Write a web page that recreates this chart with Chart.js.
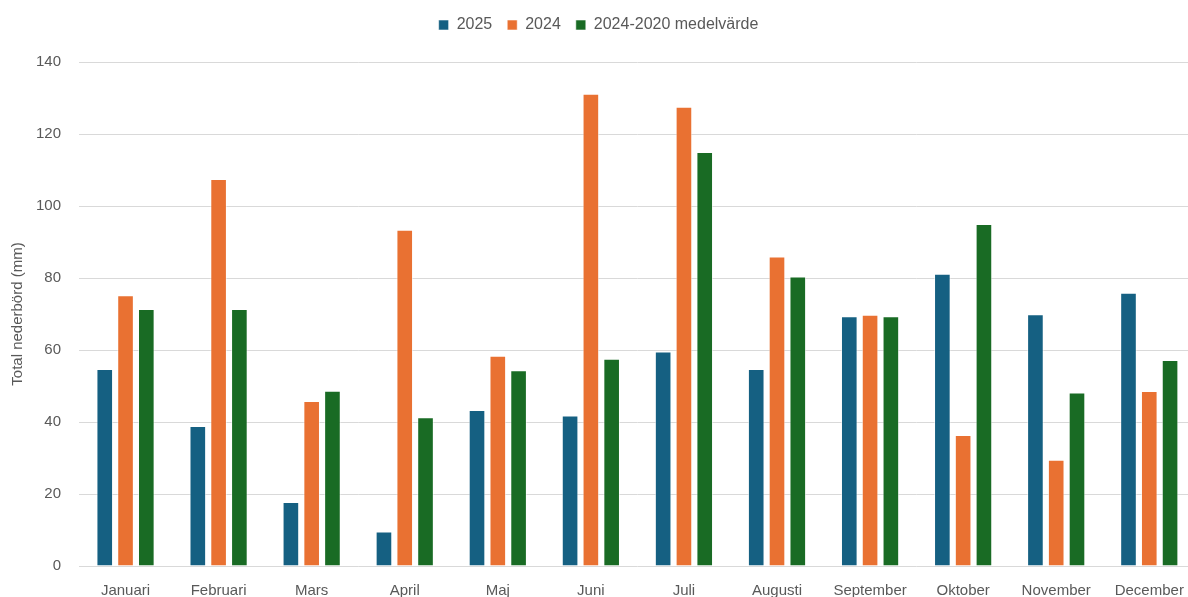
<!DOCTYPE html>
<html lang="sv">
<head>
<meta charset="utf-8">
<script src="https://cdn.jsdelivr.net/npm/chart.js@4.4.1/dist/chart.umd.min.js"></script>
<style>
  html, body { margin: 0; padding: 0; background: #fff; overflow: hidden; }
  #wrap { width: 1200px; height: 597px; }
</style>
</head>
<body>
<div id="wrap"><canvas id="grafica"></canvas></div>
<script>
// Månader (x-axel)
const manader = ["Januari", "Februari", "Mars", "April", "Maj", "Juni", "Juli", "Augusti", "September", "Oktober", "November", "December"];

// Nederbörd i mm
const varden2025 = [54.7, 38.9, 17.8, 9.6, 43.3, 41.8, 59.6, 54.7, 69.4, 81.2, 69.9, 75.9];
const varden2024 = [75.2, 107.5, 45.8, 93.4, 58.4, 131.2, 127.6, 86.0, 69.8, 36.4, 29.5, 48.6];
const medel2020_2024 = [71.4, 71.4, 48.7, 41.3, 54.4, 57.6, 115.0, 80.4, 69.4, 95.0, 48.2, 57.2];

const serieNamn = ["2025", "2024", "2024-2020 medelvärde"];
const yTicks = [0, 20, 40, 60, 80, 100, 120, 140];

const textFarg = '#595959';
const typsnitt = "'Liberation Sans', Arial, sans-serif";

function serie(label, data, color) {
    return {
        label: label,
        data: data,
        backgroundColor: color,
        borderColor: 'rgba(255,255,255,0.55)',
        borderWidth: 1,
        categoryPercentage: 0.67,
        barPercentage: 0.8
    };
}

// Extra luft under förklaringen (som i Excel)
const legendAbstand = {
    id: 'legendAbstand',
    beforeLayout(chart) {
        const l = chart.legend;
        if (!l || l._abstand) return;
        const origFit = l.fit;
        l.fit = function () {
            origFit.call(this);
            this.height += 19;
        };
        l._abstand = true;
    }
};

const $grafica = document.querySelector("#grafica");

new Chart($grafica, {
    type: 'bar',
    data: {
        labels: manader,
        datasets: [
            serie(serieNamn[0], varden2025, '#156082'),
            serie(serieNamn[1], varden2024, '#E97132'),
            serie(serieNamn[2], medel2020_2024, '#196B24')
        ]
    },
    plugins: [legendAbstand],
    options: {
        responsive: true,
        maintainAspectRatio: false,
        animation: false,
        layout: { padding: { top: 2, right: 3, left: 0, bottom: 0 } },
        plugins: {
            legend: {
                position: 'top',
                labels: {
                    boxWidth: 10,
                    boxHeight: 10,
                    padding: 15,
                    color: textFarg,
                    font: { family: typsnitt, size: 16 }
                }
            },
            tooltip: { enabled: false }
        },
        scales: {
            x: {
                grid: { display: false, drawTicks: false },
                border: { display: false },
                ticks: {
                    color: textFarg,
                    font: { family: typsnitt, size: 15 },
                    padding: 16,
                    maxRotation: 0,
                    autoSkip: false
                },
                afterFit: (s) => { s.height = 31; }
            },
            y: {
                min: 0,
                max: 140,
                afterBuildTicks: (s) => { s.ticks = yTicks.map(v => ({ value: v })); },
                grid: { color: '#d9d9d9', lineWidth: 1, drawTicks: false },
                border: { display: false },
                ticks: {
                    color: textFarg,
                    font: { family: typsnitt, size: 15 },
                    padding: 18
                },
                title: {
                    display: true,
                    text: 'Total nederbörd (mm)',
                    color: textFarg,
                    font: { family: typsnitt, size: 15 },
                    padding: { top: 9, bottom: 4 }
                },
                afterFit: (s) => { s.width = 79; }
            }
        }
    }
});
</script>
</body>
</html>
